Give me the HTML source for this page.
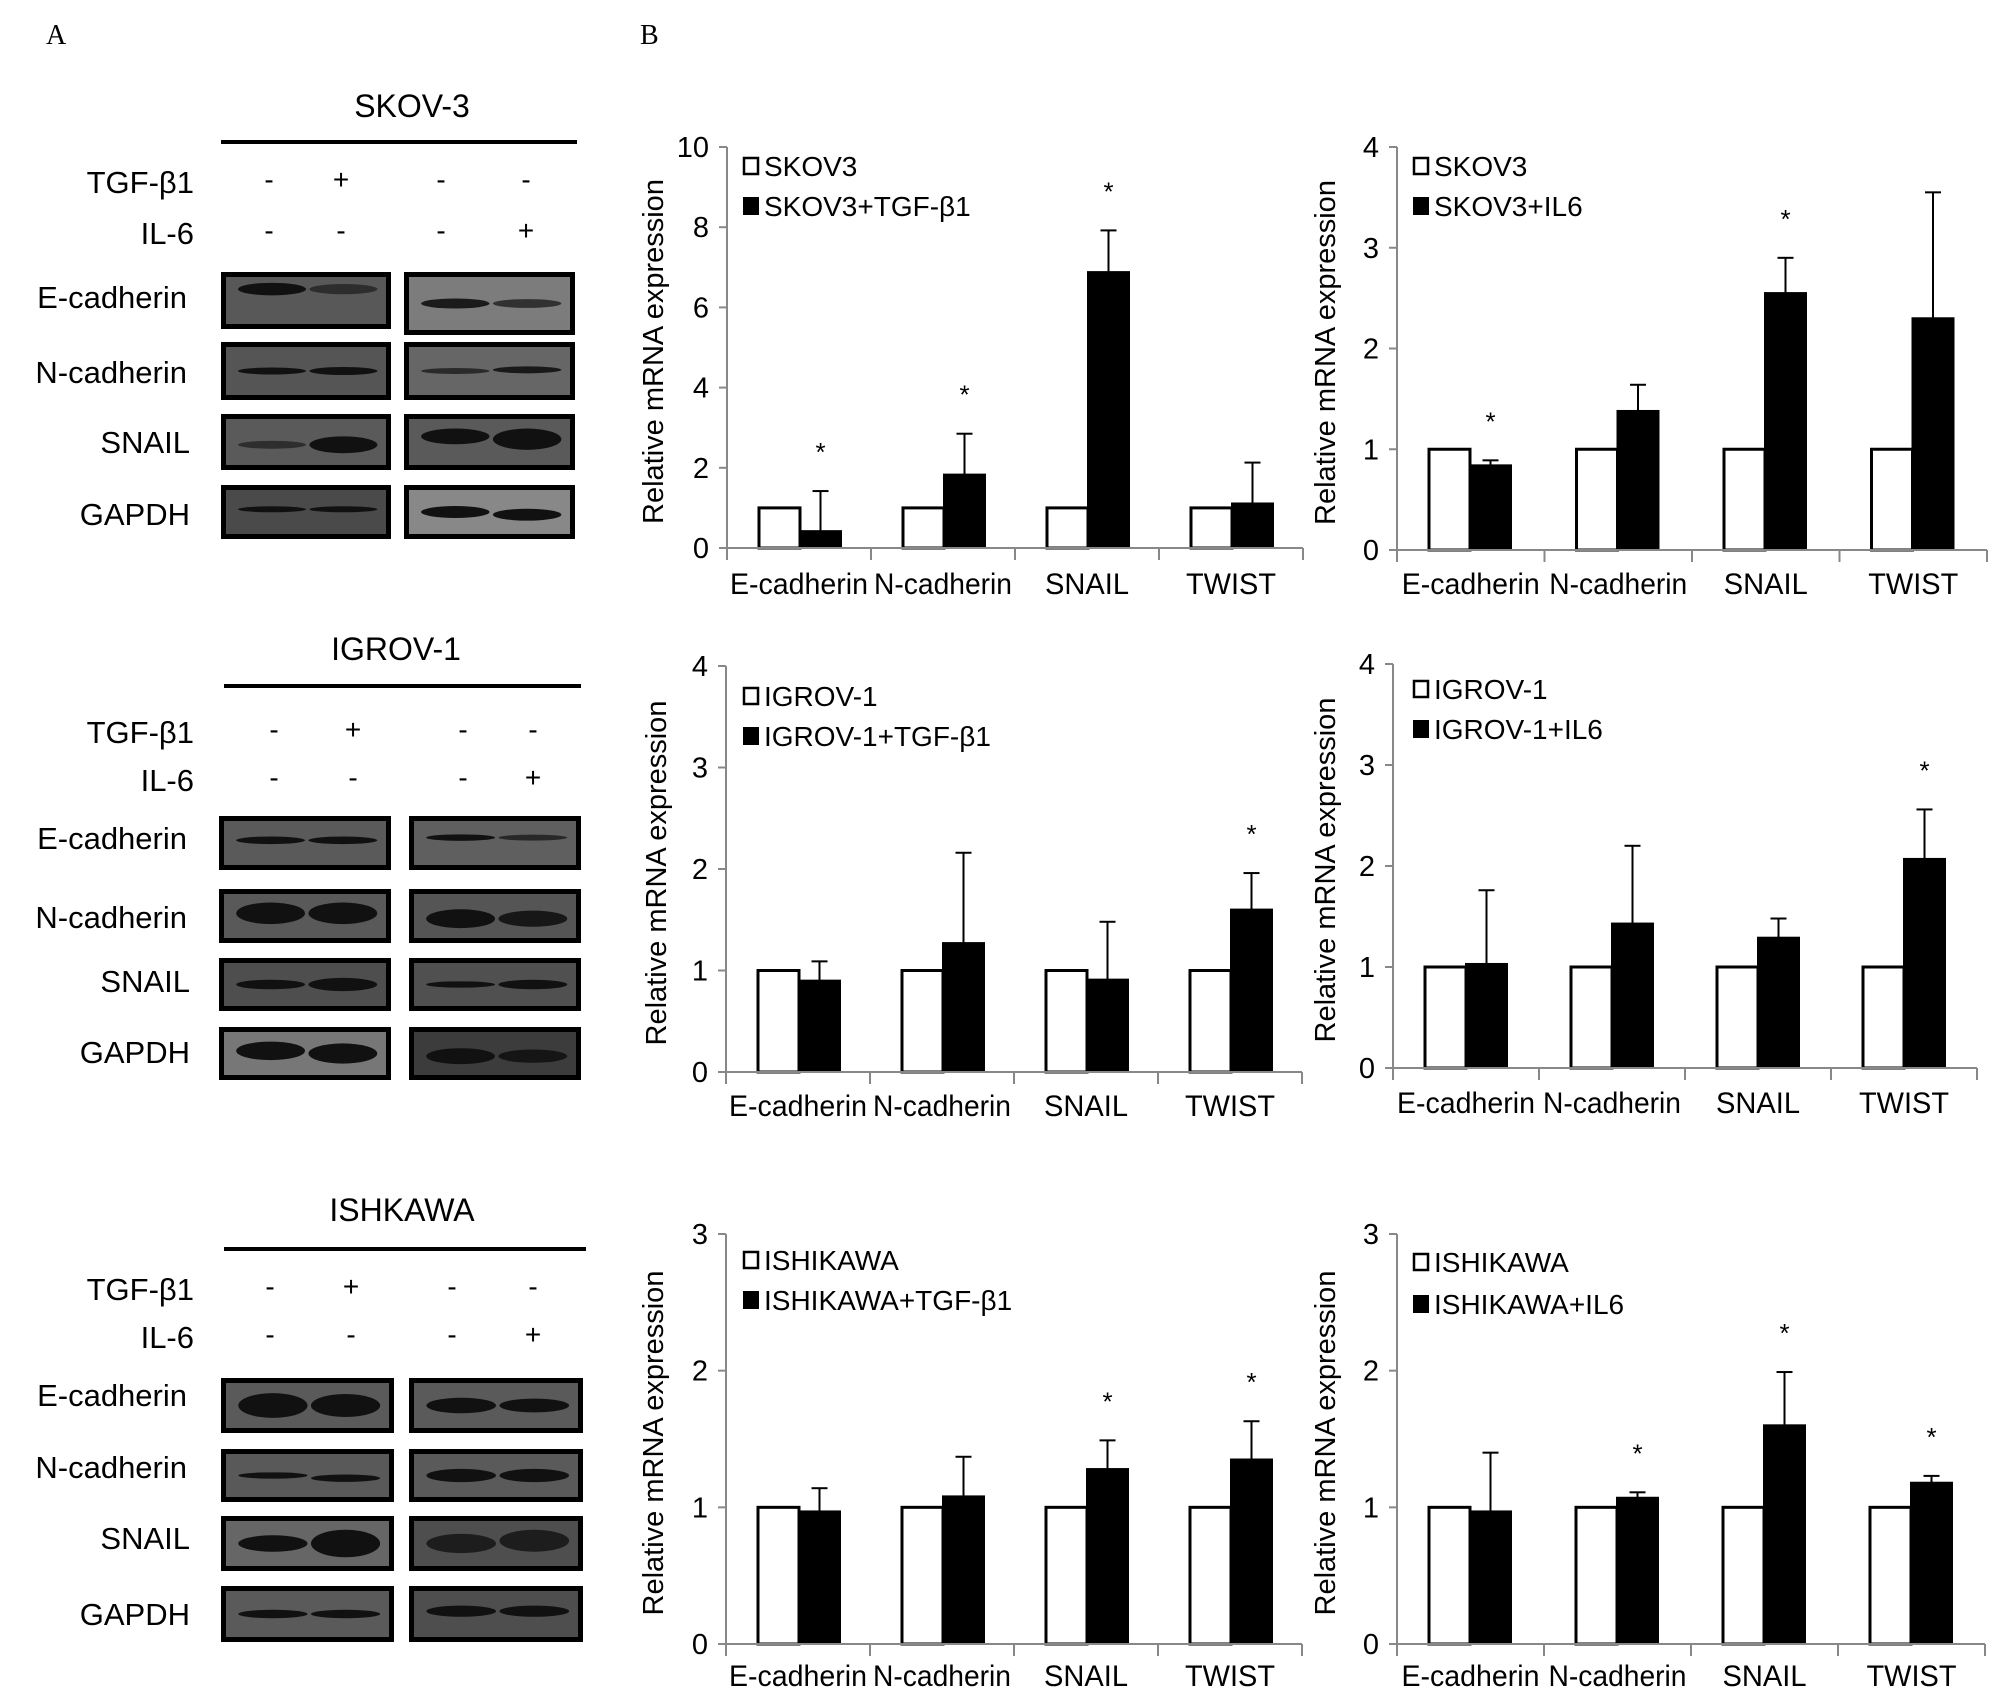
<!DOCTYPE html>
<html><head><meta charset="utf-8"><style>
html,body{margin:0;padding:0;background:#fff}
svg{display:block}
text{font-family:"Liberation Sans Narrow","Liberation Sans",Arial,sans-serif;fill:#000}
.serif{font-family:"Liberation Serif",serif}
</style></head><body>
<svg id="fig" width="2008" height="1708" viewBox="0 0 2008 1708" xmlns="http://www.w3.org/2000/svg">
<text class="serif" x="46" y="44" font-size="28">A</text>
<text class="serif" x="640" y="44" font-size="28">B</text>
<g id="blots"></g>
<g id="charts"></g>
</svg>
<script>
// ---- chart data ----
const categories = ["E-cadherin","N-cadherin","SNAIL","TWIST"];
const legendCtrl = ["SKOV3","SKOV3","IGROV-1","IGROV-1","ISHIKAWA","ISHIKAWA"];
const legendTreat = ["SKOV3+TGF-β1","SKOV3+IL6","IGROV-1+TGF-β1","IGROV-1+IL6","ISHIKAWA+TGF-β1","ISHIKAWA+IL6"];
const yMax = [10,4,4,4,3,3];
const yStep = [2,1,1,1,1,1];
const ctrl1 = [1,1,1,1];
const treat1 = [0.42,1.83,6.88,1.11];
const err1 = [1.42,2.85,7.92,2.13];
const sig1 = [1,1,1,0];
const ctrl2 = [1,1,1,1];
const treat2 = [0.84,1.38,2.55,2.30];
const err2 = [0.89,1.64,2.90,3.55];
const sig2 = [1,0,1,0];
const ctrl3 = [1,1,1,1];
const treat3 = [0.90,1.27,0.91,1.60];
const err3 = [1.09,2.16,1.48,1.96];
const sig3 = [0,0,0,1];
const ctrl4 = [1,1,1,1];
const treat4 = [1.03,1.43,1.29,2.07];
const err4 = [1.76,2.20,1.48,2.56];
const sig4 = [0,0,0,1];
const ctrl5 = [1,1,1,1];
const treat5 = [0.97,1.08,1.28,1.35];
const err5 = [1.14,1.37,1.49,1.63];
const sig5 = [0,0,1,1];
const ctrl6 = [1,1,1,1];
const treat6 = [0.97,1.07,1.60,1.18];
const err6 = [1.40,1.11,1.99,1.23];
const sig6 = [0,1,1,1];

const NS="http://www.w3.org/2000/svg";
function mk(tag,attrs,parent,txt){const e=document.createElementNS(NS,tag);for(const k in attrs)e.setAttribute(k,attrs[k]);if(txt!==undefined)e.textContent=txt;parent.appendChild(e);return e;}

const layouts=[
 {x0:727,cw:144,yT:147,y0:548,lx:743,ly1:166,ly2:206,catY:594,titleX:663},
 {x0:1397,cw:147.5,yT:147,y0:550,lx:1413,ly1:166,ly2:206,catY:594,titleX:1335},
 {x0:726,cw:144,yT:666,y0:1072,lx:743,ly1:696,ly2:736,catY:1116,titleX:666},
 {x0:1393,cw:146,yT:664,y0:1068,lx:1413,ly1:689,ly2:729,catY:1113,titleX:1335},
 {x0:726,cw:144,yT:1234,y0:1644,lx:743,ly1:1260,ly2:1300,catY:1686,titleX:663},
 {x0:1397,cw:147,yT:1234,y0:1644,lx:1413,ly1:1262,ly2:1304,catY:1686,titleX:1335}
];
const allCtrl=[ctrl1,ctrl2,ctrl3,ctrl4,ctrl5,ctrl6];
const allTreat=[treat1,treat2,treat3,treat4,treat5,treat6];
const allErr=[err1,err2,err3,err4,err5,err6];
const allSig=[sig1,sig2,sig3,sig4,sig5,sig6];
const catW=[138,138,84,90];
const charts=document.getElementById('charts');

layouts.forEach((L,ci)=>{
  const g=mk('g',{},charts);
  
  
  const max=yMax[ci];
  const y=v=>L.y0-(v/max)*(L.y0-L.yT);
  const xEnd=L.x0+L.cw*categories.length;
  const ya=mk('line',{x1:L.x0,y1:L.yT,x2:L.x0,y2:L.y0,stroke:'#888','stroke-width':2},g);
  
  
  for(let v=0;v<=max+1e-9;v+=yStep[ci]){
    mk('line',{x1:L.x0-8,y1:y(v),x2:L.x0,y2:y(v),stroke:'#888','stroke-width':2},g);
    const t=mk('text',{x:L.x0-18,y:y(v)+10,'font-size':29,'text-anchor':'end'},g,String(v));
    
    
  }
  const yt=mk('text',{x:L.titleX,y:(L.yT+L.y0)/2+4,'font-size':29,'text-anchor':'middle',transform:`rotate(-90 ${L.titleX} ${(L.yT+L.y0)/2+4})`,style:'font-family:"Liberation Sans",Arial,sans-serif'},g,'Relative mRNA expression');
  
  
  categories.forEach((c,i)=>{
    const bx=L.x0+i*L.cw+32, bw=41;
    const wb=mk('rect',{x:bx,y:y(allCtrl[ci][i]),width:bw,height:L.y0-y(allCtrl[ci][i]),fill:'#fff',stroke:'#000','stroke-width':3},g);
    
    
    const tv=allTreat[ci][i];
    const ev=allErr[ci][i];
    const ex=bx+bw+bw/2;
    const el=mk('line',{x1:ex,y1:y(tv),x2:ex,y2:y(ev),stroke:'#000','stroke-width':2},g);
    
    
    mk('line',{x1:ex-8,y1:y(ev),x2:ex+8,y2:y(ev),stroke:'#000','stroke-width':2},g);
    const bb=mk('rect',{x:bx+bw,y:y(tv),width:bw,height:L.y0-y(tv),fill:'#000',stroke:'#000','stroke-width':2},g);
    
    
    if(allSig[ci][i]){
      const st=mk('text',{x:ex,y:y(ev)-30,'font-size':26,'text-anchor':'middle'},g,'*');
      
      
    }
    const cl=mk('text',{x:L.x0+(i+0.5)*L.cw,y:L.catY,'font-size':30,'text-anchor':'middle',textLength:catW[i],lengthAdjust:'spacingAndGlyphs'},g,c);
    
    
  });
  const xa=mk('line',{x1:L.x0,y1:L.y0,x2:xEnd,y2:L.y0,stroke:'#888','stroke-width':2},g);
  
  
  for(let i=0;i<=categories.length;i++) mk('line',{x1:L.x0+i*L.cw,y1:L.y0,x2:L.x0+i*L.cw,y2:L.y0+12,stroke:'#888','stroke-width':2},g);
  const l1=mk('g',{},g);
  
  
  mk('rect',{x:L.lx+1,y:L.ly1-8,width:14,height:16,fill:'#fff',stroke:'#000','stroke-width':2.5},l1);
  mk('text',{x:L.lx+21,y:L.ly1+10,'font-size':28},l1,legendCtrl[ci]);
  const l2=mk('g',{},g);
  
  
  mk('rect',{x:L.lx,y:L.ly2-9,width:16,height:18,fill:'#000'},l2);
  mk('text',{x:L.lx+21,y:L.ly2+10,'font-size':28},l2,legendTreat[ci]);
});

// ---- western blots ----
const blotPanels=[
 {title:'SKOV-3',tx:412,ty:117,line:[221,577,142],tgfY:193,ilY:244,signs:[269,341,441,526],
  lb:[221,391],rb:[404,575],
  rows:[['E-cadherin',272,329,272,335,'#585858','#7c7c7c',[0.3,0.22,1,0.3,0.18,0.6],[0.5,0.16,0.9,0.5,0.14,0.7]],
        ['N-cadherin',342,400,342,400,'#555','#666',[0.5,0.12,1,0.5,0.14,1],[0.5,0.1,0.7,0.48,0.12,0.9]],
        ['SNAIL',414,470,414,470,'#5a5a5a','#5a5a5a',[0.55,0.14,0.6,0.55,0.3,1],[0.4,0.28,1,0.45,0.38,1]],
        ['GAPDH',485,539,485,539,'#4a4a4a','#888',[0.45,0.1,1,0.45,0.1,1],[0.5,0.22,1,0.55,0.22,1]]],
  labY:[308,383,453,525]},
 {title:'IGROV-1',tx:396,ty:660,line:[224,581,686],tgfY:743,ilY:791,signs:[274,353,463,533],
  lb:[219,391],rb:[409,581],
  rows:[['E-cadherin',816,870,816,870,'#5a5a5a','#5f5f5f',[0.45,0.14,1,0.45,0.14,1],[0.4,0.12,1,0.4,0.1,0.7]],
        ['N-cadherin',889,943,889,943,'#595959','#555',[0.45,0.4,1,0.45,0.4,1],[0.55,0.35,1,0.55,0.3,0.9]],
        ['SNAIL',958,1011,958,1011,'#4e4e4e','#505050',[0.5,0.18,1,0.5,0.25,1],[0.5,0.12,1,0.5,0.18,1]],
        ['GAPDH',1027,1080,1027,1080,'#777','#3c3c3c',[0.45,0.35,1,0.5,0.38,1],[0.55,0.3,1,0.55,0.25,0.9]]],
  labY:[849,928,992,1063]},
 {title:'ISHKAWA',tx:402,ty:1221,line:[224,586,1249],tgfY:1300,ilY:1348,signs:[270,351,452,533],
  lb:[221,394],rb:[409,583],
  rows:[['E-cadherin',1378,1433,1378,1433,'#5a5a5a','#5a5a5a',[0.5,0.45,1,0.5,0.42,1],[0.5,0.28,1,0.5,0.25,1]],
        ['N-cadherin',1449,1502,1449,1502,'#595959','#5a5a5a',[0.5,0.12,1,0.55,0.14,1],[0.5,0.25,1,0.5,0.25,1]],
        ['SNAIL',1516,1571,1516,1571,'#666','#4e4e4e',[0.5,0.3,1,0.5,0.5,1],[0.5,0.35,0.8,0.45,0.4,0.8]],
        ['GAPDH',1586,1642,1586,1642,'#5a5a5a','#4e4e4e',[0.5,0.15,1,0.5,0.15,1],[0.45,0.2,1,0.45,0.2,1]]],
  labY:[1406,1478,1549,1625]}
];
const blots=document.getElementById('blots');
blotPanels.forEach((P,pi)=>{
  const g=mk('g',{},blots);
  
  
  mk('text',{x:P.tx,y:P.ty,'font-size':32,'text-anchor':'middle'},g,P.title);
  mk('line',{x1:P.line[0],y1:P.line[2],x2:P.line[1],y2:P.line[2],stroke:'#000','stroke-width':4},g);
  mk('text',{x:194,y:P.tgfY,'font-size':31,'text-anchor':'end'},g,'TGF-β1');
  mk('text',{x:194,y:P.ilY,'font-size':31,'text-anchor':'end'},g,'IL-6');
  const tgf=['-','+','-','-'], il=['-','-','-','+'];
  P.signs.forEach((sx,i)=>{
    mk('text',{x:sx,y:P.tgfY-4,'font-size':28,'text-anchor':'middle'},g,tgf[i]);
    mk('text',{x:sx,y:P.ilY-4,'font-size':28,'text-anchor':'middle'},g,il[i]);
  });
  P.rows.forEach((r,ri)=>{
    mk('text',{x:ri===0||ri===1?187:190,y:P.labY[ri],'font-size':31,'text-anchor':'end'},g,r[0]);
    [[P.lb,r[1],r[2],r[5],r[7]],[P.rb,r[3],r[4],r[6],r[8]]].forEach(([bx,y1,y2,fill,bd])=>{
      const w=bx[1]-bx[0],h=y2-y1;
      mk('rect',{x:bx[0]+2.5,y:y1+2.5,width:w-5,height:h-5,fill:fill,stroke:'#000','stroke-width':5},g);
      [[0.3,bd[0],bd[1],bd[2]],[0.72,bd[3],bd[4],bd[5]]].forEach(([xf,yf,hf,op])=>{
        mk('ellipse',{cx:bx[0]+w*xf,cy:y1+h*yf,rx:w*0.2,ry:Math.max(3,h*hf/2),fill:'#111',opacity:op},g);
      });
    });
  });
});
</script>
</body></html>
